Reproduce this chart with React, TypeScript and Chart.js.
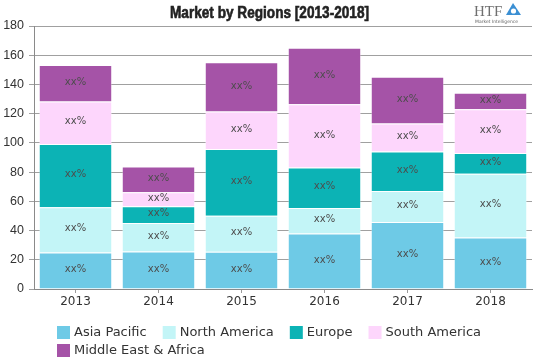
import { useEffect, useRef } from "react";
import { Chart, registerables } from "chart.js";

Chart.register(...registerables);

// ---- Data ----
const categories = ["2013", "2014", "2015", "2016", "2017", "2018"];
const asiaPacific = [25, 25.7, 25.5, 38, 45.8, 35.3];
const northAmerica = [31, 19.4, 24.6, 17.4, 21.2, 43.5];
const europe = [43.3, 11.6, 45.8, 27.7, 27.1, 14.2];
const southAmerica = [29, 9.6, 25.5, 43.3, 19.1, 30];
const middleEastAfrica = [25, 17.5, 33.8, 38.7, 32.1, 11.4];
const seriesNames = ["Asia Pacific", "North America", "Europe", "South America", "Middle East & Africa"];
const seriesColors = ["#6ecae6", "#c3f5f7", "#0cb3b5", "#fdd6fc", "#a553a7"];
const segmentLabel = "xx%";
const titleText = "Market by Regions [2013-2018]";
const logoText = "HTF";
const logoSubText = "Market Intelligence";
const yMin = 0;
const yMax = 180;
const yStep = 20;

const seriesValues = [asiaPacific, northAmerica, europe, southAmerica, middleEastAfrica];

const titlePlugin = {
  id: "customTitle",
  afterDraw(chart: any) {
    const ctx = chart.ctx;
    ctx.save();
    ctx.fillStyle = "#222";
    ctx.font = 'bold 16px "Liberation Sans", Arial, sans-serif';
    ctx.textAlign = "center";
    ctx.textBaseline = "alphabetic";
    const targetWidth = 199;
    const w = ctx.measureText(titleText).width;
    const sx = Math.min(1, targetWidth / w);
    ctx.translate(chart.width / 2, 17.5);
    ctx.scale(sx, 1);
    ctx.fillText(titleText, 0, 0);
    ctx.lineWidth = 0.6;
    ctx.strokeStyle = "#222";
    ctx.strokeText(titleText, 0, 0);
    ctx.restore();

    // logo
    ctx.save();
    ctx.textAlign = "left";
    ctx.textBaseline = "alphabetic";
    ctx.fillStyle = "#6f6f6f";
    ctx.font = '15px "Liberation Serif", serif';
    ctx.fillText(logoText, 474, 16);
    ctx.fillStyle = "#3b8fd3";
    ctx.beginPath();
    ctx.moveTo(506, 15);
    ctx.lineTo(513, 3);
    ctx.lineTo(521, 15);
    ctx.closePath();
    ctx.fill();
    ctx.fillStyle = "#ffffff";
    ctx.beginPath();
    ctx.arc(513.5, 11, 2.6, 0, Math.PI * 2);
    ctx.fill();
    ctx.fillStyle = "#666";
    ctx.font = '4.5px "DejaVu Sans", sans-serif';
    ctx.fillText(logoSubText, 475, 23);
    ctx.restore();
  },
};

const segmentLabelPlugin = {
  id: "segmentLabels",
  afterDatasetsDraw(chart: any) {
    const ctx = chart.ctx;
    ctx.save();
    ctx.fillStyle = "#4d4d4d";
    ctx.font = '10px "DejaVu Sans", sans-serif';
    ctx.textAlign = "center";
    ctx.textBaseline = "middle";
    chart.data.datasets.forEach((_ds: any, i: number) => {
      const meta = chart.getDatasetMeta(i);
      meta.data.forEach((bar: any) => {
        const { x, y, base } = bar.getProps(["x", "y", "base"], true);
        ctx.fillText(segmentLabel, x, (y + base) / 2 - 1);
      });
    });
    ctx.restore();
  },
};

const legendPlugin = {
  id: "customLegend",
  afterDraw(chart: any) {
    const ctx = chart.ctx;
    ctx.save();
    ctx.font = '13px "DejaVu Sans", sans-serif';
    ctx.textBaseline = "middle";
    ctx.textAlign = "left";
    const startX = 57;
    const rowY = [332.5, 350.5];
    const box = 13;
    const textGap = 4;
    const itemGap = 16;
    const maxRight = 532;
    let x = startX;
    let row = 0;
    chart.data.datasets.forEach((ds: any) => {
      const w = box + textGap + ctx.measureText(ds.label).width;
      if (x > startX && x + w > maxRight) {
        row += 1;
        x = startX;
      }
      const cy = rowY[Math.min(row, rowY.length - 1)];
      ctx.fillStyle = ds.backgroundColor;
      ctx.fillRect(x, cy - box / 2, box, box);
      ctx.fillStyle = "#333";
      ctx.fillText(ds.label, x + box + textGap, cy + 0.5);
      x += w + itemGap;
    });
    ctx.restore();
  },
};

export default function App() {
  const ref = useRef<HTMLCanvasElement | null>(null);

  useEffect(() => {
    document.body.style.margin = "0";
    if (!ref.current) return;
    const chart = new Chart(ref.current, {
      type: "bar",
      data: {
        labels: categories,
        datasets: seriesNames.map((name, i) => ({
          label: name,
          data: seriesValues[i],
          backgroundColor: seriesColors[i],
          borderColor: "rgba(255,255,255,0.35)",
          borderWidth: 1,
          barPercentage: 0.885,
          categoryPercentage: 1,
        })),
      },
      options: {
        animation: false,
        responsive: false,
        layout: { padding: { left: 3, right: 7, top: 26, bottom: 40 } },
        plugins: {
          legend: { display: false },
          title: { display: false },
          tooltip: { enabled: false },
        },
        scales: {
          x: {
            stacked: true,
            grid: {
              display: true,
              drawOnChartArea: false,
              drawTicks: true,
              tickLength: 4,
              offset: false,
              color: "#9a9a9a",
            },
            border: { color: "#8a8a8a" },
            ticks: {
              color: "#333",
              padding: 2,
              font: { family: "DejaVu Sans", size: 12 },
            },
            afterFit(scale: any) {
              scale.height = 30;
            },
          },
          y: {
            stacked: true,
            min: yMin,
            max: yMax,
            ticks: {
              stepSize: yStep,
              color: "#333",
              padding: 5,
              font: { family: "Liberation Sans", size: 12.5 },
            },
            grid: { color: "#a0a0a0", tickLength: 5 },
            border: { color: "#8a8a8a" },
            afterFit(scale: any) {
              scale.width = 31;
            },
          },
        },
      },
      plugins: [segmentLabelPlugin, legendPlugin, titlePlugin],
    });
    return () => chart.destroy();
  }, []);

  return (
    <div style={{ width: 539, height: 359 }}>
      <canvas ref={ref} width={539} height={359} style={{ display: "block" }} />
    </div>
  );
}
